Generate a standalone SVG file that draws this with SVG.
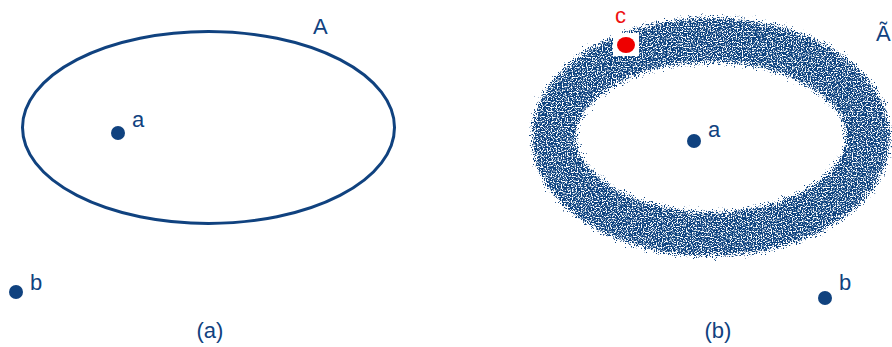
<svg xmlns="http://www.w3.org/2000/svg" width="892" height="347" viewBox="0 0 892 347">
<style>
text{font-family:"Liberation Sans",Arial,sans-serif;font-size:22px;fill:#10427f}
.dot{fill:#10427f}
</style>
<defs>
<filter id="grain" x="-15%" y="-20%" width="130%" height="140%">
<feTurbulence type="fractalNoise" baseFrequency="0.9" numOctaves="2" seed="3" result="n"/>
<feDisplacementMap in="SourceGraphic" in2="n" scale="18" xChannelSelector="R" yChannelSelector="G" result="d"/>
<feTurbulence type="fractalNoise" baseFrequency="0.8" numOctaves="1" seed="11" result="n2"/>
<feColorMatrix in="n2" type="matrix" values="0 0 0 0 0 0 0 0 0 0 0 0 0 0 0 7 0 0 0 -2.6" result="mask"/>
<feComposite in="d" in2="mask" operator="in"/>
</filter>
</defs>
<g id="panel-a">
<ellipse cx="208.5" cy="127.5" rx="186" ry="96" fill="none" stroke="#10427f" stroke-width="3"/>
<text x="313" y="34">A</text>
<g id="node-a1"><circle class="dot" cx="118" cy="133" r="7"/><text x="132" y="127">a</text></g>
<g id="node-b1"><circle class="dot" cx="16" cy="292" r="7"/><text x="30" y="290">b</text></g>
<text x="210" y="338" text-anchor="middle">(a)</text>
</g>
<g id="panel-b">
<g filter="url(#grain)">
<ellipse cx="711" cy="137" rx="157" ry="97" fill="none" stroke="#10427f" stroke-width="44"/>
</g>
<g id="node-c">
<rect x="613" y="33" width="26" height="23" fill="#fff"/>
<ellipse cx="626" cy="45" rx="9" ry="8" fill="#ee0000"/>
<text x="615" y="23" style="fill:#ee1111">c</text>
</g>
<text x="876" y="41">Ã</text>
<g id="node-a2"><circle class="dot" cx="694" cy="141" r="7"/><text x="708" y="137">a</text></g>
<g id="node-b2"><circle class="dot" cx="825" cy="298" r="7"/><text x="839" y="290">b</text></g>
<text x="718" y="338" text-anchor="middle">(b)</text>
</g>
</svg>
